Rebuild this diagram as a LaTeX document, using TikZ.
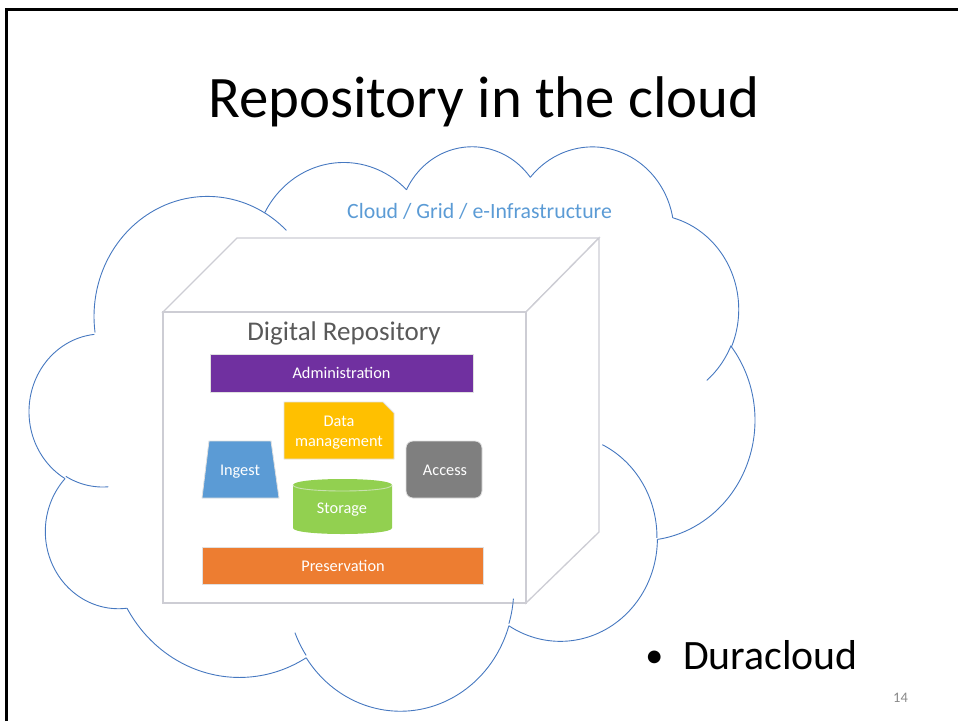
\documentclass[tikz,border=0pt]{standalone}
\usepackage{fontspec}
\setmainfont{Carlito}
\definecolor{cloudblue}{RGB}{70,120,192}
\definecolor{labelblue}{RGB}{91,155,213}
\definecolor{admpurple}{RGB}{112,48,160}
\definecolor{datayellow}{RGB}{255,192,0}
\definecolor{ingblue}{RGB}{91,155,213}
\definecolor{storgreen}{RGB}{146,208,80}
\definecolor{storedge}{RGB}{200,225,175}
\definecolor{accgray}{RGB}{127,127,127}
\definecolor{presorange}{RGB}{237,125,49}
\definecolor{cubegray}{RGB}{205,205,212}
\definecolor{textgray}{RGB}{89,89,89}
\definecolor{pagenum}{RGB}{137,137,137}
% cloud arc helper (DrawingML arcTo, angles in degrees)
\def\CAsx{0.0167824}
\def\CAsy{0.0130556}
\newcommand\CloudMove[2]{%
  \pgfmathsetmacro\CAx{29.6+#1*16.7824}%
  \pgfmathsetmacro\CAy{145+#2*13.0556}}
\newcommand\CloudArc[4]{%
  \pgfmathsetmacro\CAtA{atan2(#1*sin(#3),#2*cos(#3))}%
  \pgfmathsetmacro\CAtB{atan2(#1*sin(#3+#4),#2*cos(#3+#4))}%
  \pgfmathsetmacro\CAtB{\CAtB<\CAtA ? \CAtB+360 : \CAtB}%
  \pgfmathsetmacro\CArx{#1*\CAsx}%
  \pgfmathsetmacro\CAry{#2*\CAsy}%
  \pgfmathsetmacro\CAcx{\CAx-\CArx*cos(\CAtA)}%
  \pgfmathsetmacro\CAcy{\CAy-\CAry*sin(\CAtA)}%
  \draw[cloudline] plot[domain=\CAtA:\CAtB,samples=60,variable=\t]
     ({\CAcx+\CArx*cos(\t)},{\CAcy+\CAry*sin(\t)});%
  \pgfmathsetmacro\CAx{\CAcx+\CArx*cos(\CAtB)}%
  \pgfmathsetmacro\CAy{\CAcy+\CAry*sin(\CAtB)}}
\begin{document}
\begin{tikzpicture}[x=1pt,y=-1pt,
  cloudline/.style={draw=cloudblue,line width=0.9pt},
  cubeline/.style={draw=cubegray,line width=1.3pt,fill=white,line join=miter},
  part/.style={draw=black!12,line width=0.8pt},
  parttext/.style={text=white,font=\fontsize{16.3}{20}\selectfont,anchor=base,inner sep=0pt},
  frameline/.style={line width=3pt,draw=black}]
\useasboundingbox (0,0) rectangle (958,721);
% slide frame
\coordinate (fbl) at (6.2,721);
\coordinate (ftl) at (6.2,9.5);
\coordinate (ftr) at (958,9.5);
\draw[frameline] (fbl) -- (ftl) -- (ftr);
% title
\node[font=\fontsize{58.8}{60}\selectfont,anchor=base,inner sep=0pt] (title) at (484,117) {Repository in the cloud};
% cube
\coordinate (c1) at (163,312);
\coordinate (c2) at (526,312);
\coordinate (c3) at (526,603);
\coordinate (c4) at (163,603);
\coordinate (b1) at (237,238);
\coordinate (b2) at (599,238);
\coordinate (b3) at (599,532);
\path[cubeline] (c1) -- (b1) -- (b2) -- (c2) -- cycle;
\path[cubeline] (c2) -- (b2) -- (b3) -- (c3) -- cycle;
\path[cubeline] (c1) -- (c2) -- (c3) -- (c4) -- cycle;
% cloud outline
\CloudMove{3.900}{14.370}
\CloudArc{6753}{9190}{-190.4875}{123.7805}
\CloudArc{5333}{7267}{-144.1024}{89.9452}
\CloudArc{4365}{5945}{-145.8079}{99.7230}
\CloudArc{4857}{6595}{-130.9861}{117.2417}
\CloudArc{5333}{7273}{-78.7089}{109.0269}
\CloudArc{6775}{9220}{-46.2673}{130.2690}
\CloudArc{5785}{7867}{0.6250}{114.0333}
\CloudArc{6752}{9215}{22.4516}{115.1726}
\CloudArc{7720}{10543}{66.2426}{75.7110}
\CloudArc{4360}{5918}{-274.9421}{146.7356}
\CloudArc{4345}{5945}{-246.8285}{152.5189}
% cloud inner arcs
\CloudMove{4.693}{26.177}\CloudArc{4345}{5945}{86.7420}{26.4295}
\CloudMove{16.478}{39.090}\CloudArc{6752}{9215}{137.6242}{14.0811}
\CloudMove{28.827}{34.751}\CloudArc{6752}{9215}{6.4533}{15.9984}
\CloudMove{34.129}{22.954}\CloudArc{5785}{7867}{-70.2924}{70.9174}
\CloudMove{41.798}{15.354}\CloudArc{5333}{7273}{30.3180}{27.7515}
\CloudMove{14.000}{5.192}\CloudArc{6753}{9190}{-66.7070}{12.3194}
% labels
\node[font=\fontsize{21.8}{24}\selectfont,text=labelblue,anchor=base west,inner sep=0pt] (cloudlabel) at (347,218) {Cloud / Grid / e-Infrastructure};
\node[font=\fontsize{27}{30}\selectfont,text=textgray,anchor=base,inner sep=0pt] (drlabel) at (344,340) {Digital Repository};
% components
\path[part,fill=admpurple] (210,354) rectangle (473,392);
\node[parttext] (adm) at (341.5,378.3) {Administration};
\path[part,fill=datayellow] (284,402) -- (383,402) -- (394,413) -- (394,459) -- (284,459) -- cycle;
\node[parttext] (data1) at (339,426.7) {Data};
\node[parttext] (data2) at (339,446.7) {management};
\path[part,fill=ingblue] (209,441) -- (271,441) -- (279,498) -- (202,498) -- cycle;
\node[parttext] (ingest) at (240,475) {Ingest};
\path[fill=storgreen] (293,485) -- (293,528) .. controls (293,536) and (392,536) .. (392,528) -- (392,485) .. controls (392,477) and (293,477) .. (293,485) -- cycle;
\draw[storedge,line width=0.9pt] (293,485) .. controls (293,493) and (392,493) .. (392,485);
\node[parttext] (storage) at (342,513) {Storage};
\path[part,fill=accgray,rounded corners=7pt] (406,441) rectangle (482,498);
\node[parttext] (access) at (445,475) {Access};
\path[part,fill=presorange] (202,547) rectangle (483,584);
\node[parttext] (pres) at (343,571) {Preservation};
% bullet text
\node[font=\fontsize{36}{40}\selectfont,anchor=base,inner sep=0pt] (bullet) at (654.3,667) {•};
\node[font=\fontsize{41.8}{44}\selectfont,anchor=base west,inner sep=0pt] (dura) at (683,669) {Duracloud};
\node[font=\fontsize{14.5}{16}\selectfont,text=pagenum,anchor=base west,inner sep=0pt] (pnum) at (893,702) {14};
\end{tikzpicture}
\end{document}
